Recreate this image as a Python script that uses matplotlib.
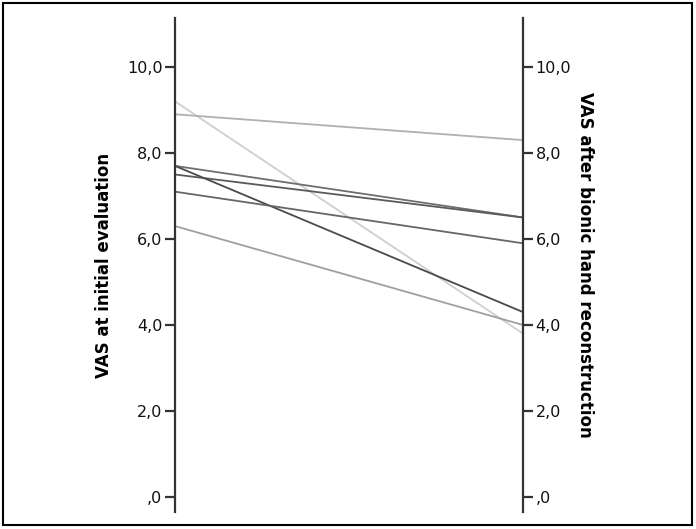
import matplotlib
matplotlib.use("Agg")
import matplotlib.pyplot as plt
from matplotlib.patches import Rectangle

# VAS per patient: initial evaluation -> after bionic hand reconstruction
vas_initial = [9.2, 8.9, 7.7, 7.5, 7.7, 7.1, 6.3]
vas_after = [3.8, 8.3, 6.5, 6.5, 4.3, 5.9, 4.0]
line_colors = ["#cfcfcf", "#b0b0b0", "#6e6e6e", "#5a5a5a", "#4a4a4a", "#666666", "#a0a0a0"]

tick_values = [0, 2, 4, 6, 8, 10]
tick_labels = [",0", "2,0", "4,0", "6,0", "8,0", "10,0"]

fig = plt.figure(figsize=(6.96, 5.29), dpi=100)
ax = fig.add_axes([175 / 696, 17 / 529, 348 / 696, 494 / 529])

for start, end, col in zip(vas_initial, vas_after, line_colors):
    ax.plot([0, 1], [start, end], color=col, linewidth=1.3, solid_capstyle="butt")

ax.set_xlim(0, 1)
ax.set_ylim(-0.35, 11.14)
ax.set_xticks([])

for side in ["top", "bottom"]:
    ax.spines[side].set_visible(False)
for side in ["left", "right"]:
    ax.spines[side].set_linewidth(1.6)
    ax.spines[side].set_color("#333333")

ax.set_yticks(tick_values)
ax.set_yticklabels(tick_labels)
ax.tick_params(axis="y", left=True, right=True, labelleft=True, labelright=True,
               direction="out", length=7, width=1.6, color="#333333",
               labelsize=11.5, labelcolor="#111111", pad=2)

ax.set_ylabel("VAS at initial evaluation", fontsize=12, fontweight="bold", labelpad=10)
ax.text(1.178, 0.5, "VAS after bionic hand reconstruction", transform=ax.transAxes,
        rotation=-90, ha="center", va="center", fontsize=12, fontweight="bold")

fig.patches.append(Rectangle((3 / 696, 4 / 529), 689 / 696, 522 / 529, transform=fig.transFigure,
                             fill=False, edgecolor="black", linewidth=1.5))

fig.savefig("out.png", dpi=100)
